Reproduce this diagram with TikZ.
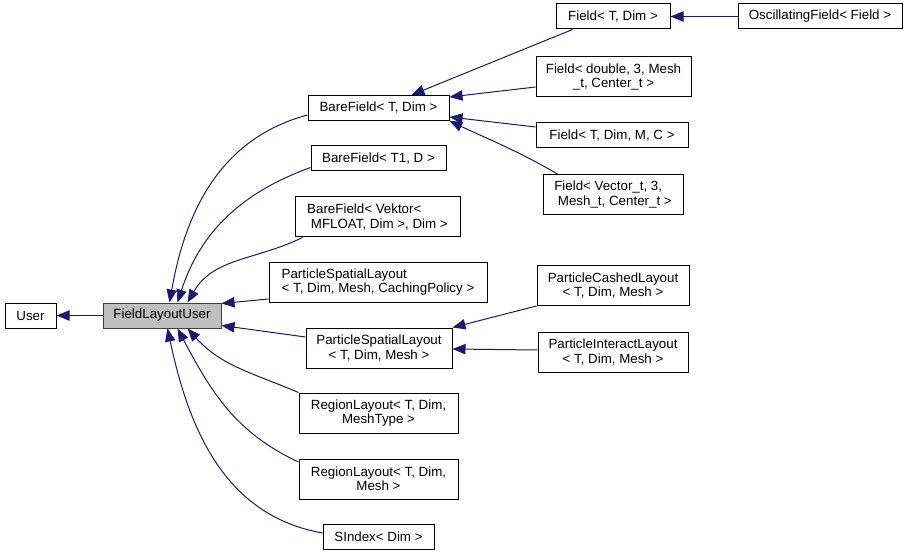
\documentclass[tikz,border=0pt]{standalone}
\usepackage{fontspec}
\setmainfont{Liberation Sans}
\usetikzlibrary{arrows.meta,calc}
\definecolor{edgec}{HTML}{191970}
\definecolor{flufill}{HTML}{BFBFBF}
\definecolor{fluline}{HTML}{404040}
\begin{document}
\begin{tikzpicture}[x=0.75pt,y=-0.75pt,
  cls/.style={draw=black, line width=0.75pt, fill=white, inner sep=1pt,
    font=\fontsize{10}{10.7}\selectfont, align=center},
  wh/.style 2 args={minimum width=#1*0.75pt, minimum height=#2*0.75pt},
  inh/.style={draw=edgec, line width=0.75pt, -{Triangle[length=9.75pt,width=7.75pt]}},
]
\useasboundingbox (0,0) rectangle (907,556);

\node[cls, wh={51}{25}] (user) at (30.5,315.5) {User};
\node[cls, wh={118}{25}, fill=flufill, draw=fluline] (flu) at (162,315.5) {FieldLayoutUser};
\node[cls, wh={141}{25}] (bf1) at (378.5,108) {BareField< T, Dim >};
\node[cls, wh={135}{25}] (bf2) at (378.5,158.5) {BareField< T1, D >};
\node[cls, wh={165}{40}, align=left] (bf3) at (377.5,217) {BareField< Vektor<\\\ MFLOAT, Dim >, Dim >};
\node[cls, wh={218}{40}, align=left] (pslc) at (378,282) {ParticleSpatialLayout\\< T, Dim, Mesh, CachingPolicy >};
\node[cls, wh={146}{40}] (psl) at (379,348) {ParticleSpatialLayout\\< T, Dim, Mesh >};
\node[cls, wh={159}{40}] (rl1) at (378.5,413) {RegionLayout< T, Dim,\\MeshType >};
\node[cls, wh={159}{40}] (rl2) at (378.5,479) {RegionLayout< T, Dim,\\Mesh >};
\node[cls, wh={111}{25}] (si) at (378.5,536.5) {SIndex< Dim >};
\node[cls, wh={114}{25}] (f1) at (613,16.5) {Field< T, Dim >};
\node[cls, wh={164}{25}] (of) at (820,16.5) {OscillatingField< Field >};
\node[cls, wh={155}{40}] (f2) at (613.5,77) {Field< double, 3, Mesh\\\_t, Center\_t >};
\node[cls, wh={152}{25}] (f3) at (612,135.5) {Field< T, Dim, M, C >};
\node[cls, wh={140}{40}, align=left] (f4) at (613,194.5) {Field< Vector\_t, 3,\\\ Mesh\_t, Center\_t >};
\node[cls, wh={152}{40}] (pcl) at (613,285.5) {ParticleCashedLayout\\< T, Dim, Mesh >};
\node[cls, wh={150}{40}] (pil) at (613,352) {ParticleInteractLayout\\< T, Dim, Mesh >};

\draw[inh] (flu.west) -- (user.east);
\draw[inh] ($(bf1.west)+(0,7)$) to[out=195,in=80] ($(flu.north west)+(67,0)$);
\draw[inh] ($(bf2.west)+(0,9)$) to[out=200,in=72] ($(flu.north west)+(75,0)$);
\draw[inh] ($(bf3.south west)+(8,0)$) to[out=206,in=60] ($(flu.north west)+(85,0)$);
\draw[inh] ($(pslc.west)+(0,17)$) -- ($(flu.north east)+(0,1)$);
\draw[inh] ($(psl.west)+(0,-11)$) -- ($(flu.south east)+(0,-3)$);
\draw[inh] (rl1.north west) to[out=157,in=-48] ($(flu.south west)+(85,0)$);
\draw[inh] ($(rl2.west)+(0,-17)$) to[out=155,in=-62] ($(flu.south west)+(75,0)$);
\draw[inh] ($(si.west)+(0,-3.5)$) to[out=170,in=-78] ($(flu.south west)+(65,0)$);

\draw[inh] ($(f1.south west)+(17,0)$) -- ($(bf1.north west)+(104,0)$);
\draw[inh] ($(f2.west)+(0,10)$) -- ($(bf1.east)+(0,-11)$);
\draw[inh] ($(f3.west)+(0,-8.5)$) -- ($(bf1.east)+(0,9)$);
\draw[inh] ($(f4.north west)+(15,0)$) to[out=150,in=-25] (bf1.south east);
\draw[inh] (of.west) -- (f1.east);
\draw[inh] (pcl.south west) -- (psl.north east);
\draw[inh] ($(pil.west)+(0,-2)$) -- ($(psl.east)+(0,1)$);
\end{tikzpicture}
\end{document}
